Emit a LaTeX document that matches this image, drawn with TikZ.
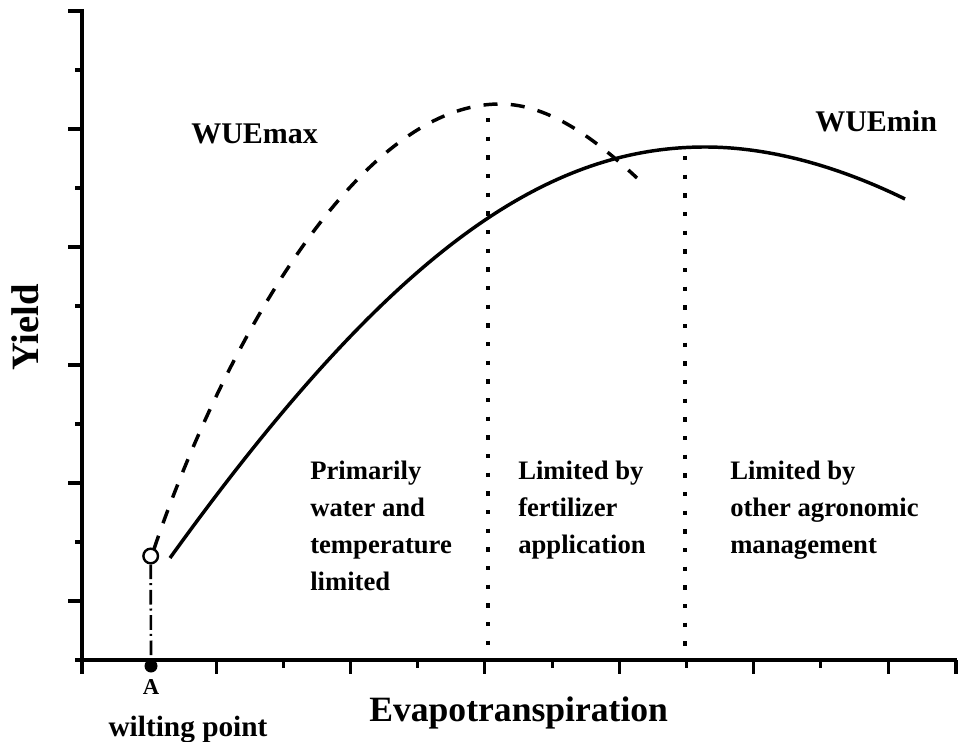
\documentclass[tikz,border=0pt]{standalone}
\usepackage{fontspec}
\setmainfont{Liberation Serif}
\begin{document}
\begin{tikzpicture}[x=0.75pt,y=-0.75pt,
  axisline/.style={line width=2.5pt},
  tickline/.style={line width=2.3pt},
  curve/.style={line width=2.6pt},
  dashcurve/.style={line width=2.6pt, dash pattern=on 10.5pt off 10pt},
  dotline/.style={line width=2.8pt, dash pattern=on 3.2pt off 10.8pt},
  dashdotline/.style={line width=2pt, dash pattern=on 11pt off 3pt on 1.5pt off 3.5pt},
  lbl/.style={inner sep=0pt, font=\fontsize{20}{24}\selectfont\bfseries, anchor=base west},
  wue/.style={inner sep=0pt, font=\fontsize{22.5}{26}\selectfont\bfseries, anchor=base west},
  axlbl/.style={inner sep=0pt, font=\fontsize{26.7}{30}\selectfont\bfseries, anchor=base}
]
\useasboundingbox (0,0) rectangle (958,742);
\fill[white] (0,0) rectangle (958,742);

% axes
\coordinate (ytop) at (82,9);
\coordinate (ybot) at (82,674);
\coordinate (xl) at (75,660);
\coordinate (xr) at (957,660);
\draw[axisline] (ytop) -- (ybot);
\draw[axisline] (xl) -- (xr);

% y ticks
\foreach \yy in {11,129,247,365,483,601} \draw[tickline] (68,\yy) -- (82,\yy);
\foreach \yy in {70,188,306,424,542} \draw[tickline] (75,\yy) -- (82,\yy);
% x ticks
\foreach \k in {2,4,...,12} \draw[tickline] ({81.7+67.2*\k},660) -- ({81.7+67.2*\k},674);
\foreach \k in {1,3,...,11} \draw[tickline] ({81.7+67.2*\k},660) -- ({81.7+67.2*\k},668);
\draw[tickline] (956,660) -- (956,674);

% solid curve (WUEmin)
\coordinate (s0) at (170,558);
\coordinate (s1) at (705,147);
\coordinate (s2) at (905,199);
\draw[curve] (s0) .. controls (390,252.2) and (545,147) .. (s1)
                  .. controls (775,147) and (845,169.6) .. (s2);

% dashed curve (WUEmax)
\coordinate (q0) at (154,549);
\coordinate (q1) at (500,104);
\coordinate (q2) at (637,178);
\draw[dashcurve] (q0) .. controls (214,371.4) and (350,104) .. (q1)
                      .. controls (550,104) and (597,140.8) .. (q2);

% dotted separators
\coordinate (d1t) at (488,118);
\coordinate (d1b) at (488,660);
\coordinate (d2t) at (685,156);
\coordinate (d2b) at (685,660);
\draw[dotline] (d1t) -- (d1b);
\draw[dotline] (d2t) -- (d2b);

% wilting point marker
\node[circle, draw, fill=white, line width=1.8pt, minimum size=14.6*0.75pt, inner sep=0pt] (circ) at (150.7,556) {};
\node[circle, fill=black, minimum size=13*0.75pt, inner sep=0pt] (wdot) at (151,666) {};
\draw[dashdotline] (circ.south) -- (wdot.center);

% labels
\node[wue] (wmax) at (191,143) {WUEmax};
\node[wue] (wmin) at (815,131.7) {WUEmin};

\node[lbl] (p1) at (310,479) {Primarily};
\node[lbl] (p2) at (310,516) {water and};
\node[lbl] (p3) at (310,553) {temperature};
\node[lbl] (p4) at (310,590) {limited};

\node[lbl] (f1) at (518,479) {Limited by};
\node[lbl] (f2) at (518,516) {fertilizer};
\node[lbl] (f3) at (518,553) {application};

\node[lbl] (o1) at (730,479) {Limited by};
\node[lbl] (o2) at (730,516) {other agronomic};
\node[lbl] (o3) at (730,553) {management};

\node[inner sep=0pt, font=\fontsize{17}{20}\selectfont\bfseries, anchor=base] (alab) at (151,694) {A};
\node[inner sep=0pt, font=\fontsize{22}{26}\selectfont\bfseries, anchor=base] (wp) at (188,736) {wilting point};
\node[axlbl] (xlab) at (518.7,721.7) {Evapotranspiration};
\node[axlbl, font=\fontsize{29}{32}\selectfont\bfseries, rotate=90] (ylab) at (38,327.5) {Yield};
\end{tikzpicture}
\end{document}
